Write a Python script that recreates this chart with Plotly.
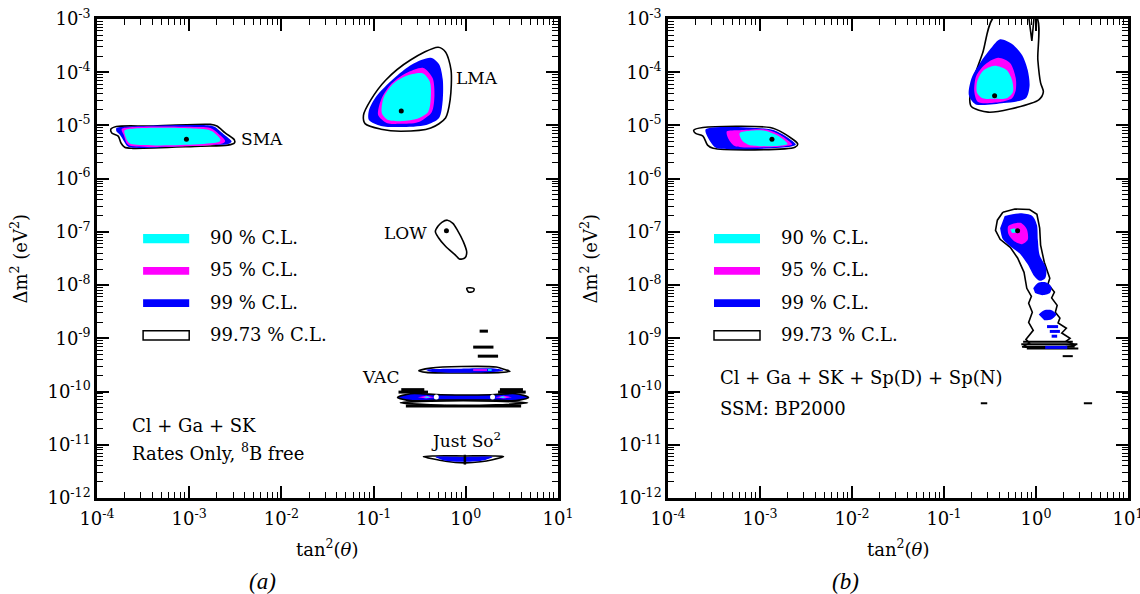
import numpy as np
import plotly.graph_objects as go

CYAN, MAGENTA, BLUE = "#00FFFF", "#FF00FF", "#0000FF"
W, H = 1140, 594

# ---- tick labels ----
X_TICK_EXP = [-4, -3, -2, -1, 0, 1]
Y_TICK_EXP = [-12, -11, -10, -9, -8, -7, -6, -5, -4, -3]

# ---- contour vertices: log10(tan^2 theta), log10(dm^2 / eV^2) ----
# Panel (a): Cl + Ga + SK, rates only
A_SMA_9973_LX = [-3.85, -3.79, -3.42, -2.77, -2.70, -2.61, -2.51, -2.51, -2.58, -2.88, -3.61, -3.70, -3.74, -3.77, -3.84]
A_SMA_9973_LY = [-5.07, -5.02, -5.01, -4.98, -5.01, -5.14, -5.27, -5.33, -5.37, -5.39, -5.43, -5.41, -5.33, -5.20, -5.14]
A_SMA_99_LX = [-3.79, -3.75, -2.77, -2.72, -2.63, -2.54, -2.58, -2.88, -3.59, -3.67, -3.71, -3.75, -3.79]
A_SMA_99_LY = [-5.05, -5.03, -5.00, -5.03, -5.16, -5.30, -5.35, -5.37, -5.42, -5.39, -5.29, -5.18, -5.11]
A_SMA_95_LX = [-3.73, -2.88, -2.77, -2.68, -2.61, -2.64, -3.64, -3.68, -3.71, -3.73]
A_SMA_95_LY = [-5.06, -5.03, -5.05, -5.16, -5.29, -5.34, -5.38, -5.33, -5.18, -5.11]
A_SMA_90_LX = [-3.70, -2.83, -2.75, -2.66, -2.68, -3.63, -3.67, -3.70]
A_SMA_90_LY = [-5.09, -5.07, -5.11, -5.27, -5.31, -5.35, -5.29, -5.16]

A_LMA_9973_LX = [-0.30, -0.22, -0.16, -0.17, -0.22, -0.38, -0.71, -0.92, -1.09, -1.11, -1.03, -0.87, -0.60]
A_LMA_9973_LY = [-3.53, -3.62, -3.96, -4.52, -4.86, -5.05, -5.11, -5.07, -4.97, -4.81, -4.52, -4.15, -3.77]
A_LMA_99_LX = [-0.38, -0.29, -0.25, -0.25, -0.29, -0.43, -0.71, -0.92, -1.05, -1.05, -0.97, -0.79, -0.58]
A_LMA_99_LY = [-3.73, -3.85, -4.13, -4.52, -4.86, -4.99, -5.03, -5.01, -4.90, -4.71, -4.45, -4.13, -3.85]
A_LMA_95_LX = [-0.46, -0.36, -0.34, -0.37, -0.52, -0.71, -0.85, -0.95, -0.92, -0.82, -0.65]
A_LMA_95_LY = [-3.92, -4.11, -4.43, -4.75, -4.94, -4.97, -4.96, -4.81, -4.52, -4.24, -4.02]
A_LMA_90_LX = [-0.47, -0.39, -0.38, -0.41, -0.54, -0.71, -0.84, -0.91, -0.89, -0.79, -0.65]
A_LMA_90_LY = [-4.02, -4.18, -4.49, -4.75, -4.88, -4.92, -4.90, -4.77, -4.47, -4.22, -4.07]

A_LOW_9973_LX = [-0.26, -0.20, -0.14, -0.09, -0.03, 0.01, -0.01, -0.07, -0.11, -0.22, -0.30, -0.33, -0.30]
A_LOW_9973_LY = [-6.82, -6.78, -6.84, -6.97, -7.17, -7.38, -7.49, -7.51, -7.44, -7.27, -7.10, -6.99, -6.89]
A_ISLAND_LX = [0.01, 0.05, 0.09, 0.08, 0.03]
A_ISLAND_LY = [-8.06, -8.05, -8.07, -8.12, -8.13]

A_VAC1_9973_LX = [-0.51, -0.38, -0.05, 0.33, 0.43, 0.48, 0.38, -0.05, -0.43]
A_VAC1_9973_LY = [-9.61, -9.56, -9.53, -9.54, -9.59, -9.62, -9.64, -9.65, -9.64]
A_VAC1_99_LX = [-0.43, -0.05, 0.33, 0.41, 0.33, -0.38]
A_VAC1_99_LY = [-9.59, -9.57, -9.57, -9.60, -9.63, -9.63]
A_VAC1_95_LX = [0.08, 0.23, 0.23, 0.08]
A_VAC1_95_LY = [-9.58, -9.58, -9.61, -9.61]
A_VAC1_90_LX = [0.24, 0.28, 0.28, 0.24]
A_VAC1_90_LY = [-9.58, -9.58, -9.61, -9.61]

A_VAC2_99_LX = [-0.74, -0.60, -0.27, 0.27, 0.54, 0.68, 0.54, 0.27, -0.27, -0.60]
A_VAC2_99_LY = [-10.11, -10.04, -10.06, -10.06, -10.04, -10.11, -10.17, -10.16, -10.16, -10.17]
A_VAC2_95_LX = [-0.52, -0.43, -0.34, -0.43, None, 0.32, 0.41, 0.50, 0.41]
A_VAC2_95_LY = [-10.105, -10.08, -10.105, -10.13, None, -10.105, -10.08, -10.105, -10.13]
A_VAC2_90_LX = [-0.46, -0.42, -0.38, -0.42, None, 0.36, 0.40, 0.44, 0.40]
A_VAC2_90_LY = [-10.105, -10.09, -10.105, -10.12, None, -10.105, -10.09, -10.105, -10.12]
A_VAC3_9973_LX = [-0.71, -0.38, 0.33, 0.67, 0.33, -0.38]
A_VAC3_9973_LY = [-10.21, -10.18, -10.18, -10.21, -10.25, -10.25]

# short black contour slivers: start lx, end lx, ly
A_DASH_LX0 = [0.15, 0.08, 0.13, -0.70, -0.73, 0.37, 0.35, -0.65]
A_DASH_LX1 = [0.24, 0.30, 0.35, -0.45, -0.41, 0.62, 0.65, 0.60]
A_DASH_LY = [-8.865, -9.165, -9.335, -9.964, -10.01, -9.964, -10.01, -10.27]

A_JSO_9973_LX = [-0.46, -0.33, -0.01, 0.29, 0.41, 0.29, 0.16, -0.01, -0.22]
A_JSO_9973_LY = [-11.22, -11.21, -11.21, -11.21, -11.22, -11.28, -11.32, -11.34, -11.31]
A_JSO_99_LX = [-0.33, -0.01, 0.29, 0.20, -0.01, -0.22]
A_JSO_99_LY = [-11.23, -11.23, -11.23, -11.29, -11.32, -11.30]

A_BEST_LX = [-3.03, -0.70, -0.21]
A_BEST_LY = [-5.26, -4.73, -6.98]
A_VAC_BEST_LX = [-0.32, 0.29]
A_VAC_BEST_LY = [-10.10, -10.10]
A_JSO_BEST_LX = [-0.01]
A_JSO_BEST_LY = [-11.28]

# Panel (b): Cl + Ga + SK + Sp(D) + Sp(N)
B_SMA_9973_LX = [-3.72, -3.62, -2.89, -2.75, -2.59, -2.62, -3.51, -3.57, -3.62, -3.70]
B_SMA_9973_LY = [-5.09, -5.04, -5.04, -5.14, -5.35, -5.41, -5.43, -5.37, -5.20, -5.15]
B_SMA_99_LX = [-3.59, -2.89, -2.76, -2.61, -2.67, -3.48, -3.53, -3.58]
B_SMA_99_LY = [-5.07, -5.07, -5.16, -5.36, -5.40, -5.42, -5.33, -5.18]
B_SMA_95_LX = [-3.36, -3.22, -2.92, -2.78, -2.65, -2.73, -3.27, -3.33, -3.36]
B_SMA_95_LY = [-5.11, -5.09, -5.08, -5.18, -5.36, -5.39, -5.39, -5.29, -5.18]
B_SMA_90_LX = [-3.22, -3.11, -2.95, -2.80, -2.70, -2.78, -3.11, -3.19, -3.22]
B_SMA_90_LY = [-5.14, -5.10, -5.10, -5.20, -5.35, -5.38, -5.37, -5.29, -5.20]

B_LMA_9973_LX = [-0.45, -0.58, -0.67, -0.72, -0.70, -0.52, -0.28, 0.03, 0.08, 0.05, 0.02, 0.00]
B_LMA_9973_LY = [-2.95, -3.64, -4.09, -4.52, -4.65, -4.75, -4.69, -4.52, -4.37, -4.20, -3.77, -2.95]
B_LMA_SLIT_LX = [-0.08, -0.045, -0.02]
B_LMA_SLIT_LY = [-2.95, -3.41, -2.95]
B_LMA_99_LX = [-0.39, -0.26, -0.15, -0.09, -0.07, -0.11, -0.35, -0.66, -0.73, -0.70, -0.61, -0.49]
B_LMA_99_LY = [-3.38, -3.47, -3.68, -3.96, -4.26, -4.49, -4.58, -4.60, -4.43, -4.11, -3.83, -3.55]
B_LMA_95_LX = [-0.41, -0.28, -0.22, -0.22, -0.26, -0.39, -0.63, -0.67, -0.65, -0.55]
B_LMA_95_LY = [-3.73, -3.83, -4.11, -4.34, -4.49, -4.56, -4.56, -4.37, -4.07, -3.85]
B_LMA_90_LX = [-0.45, -0.32, -0.26, -0.25, -0.32, -0.45, -0.58, -0.64, -0.64, -0.58]
B_LMA_90_LY = [-3.88, -3.96, -4.15, -4.37, -4.49, -4.50, -4.49, -4.39, -4.18, -3.98]

B_LOW_9973_LX = [-0.36, -0.23, -0.07, 0.01, 0.04, 0.05, 0.09, 0.15, 0.13, 0.20, 0.17, 0.23, 0.21, 0.26, 0.24, 0.33,
                 0.28, 0.37, 0.33, 0.43, 0.28, 0.04, -0.15, -0.07, -0.11, -0.03, -0.08, -0.04, -0.08, -0.05, -0.10,
                 -0.13, -0.20, -0.28, -0.39, -0.44, -0.42]
B_LOW_9973_LY = [-6.63, -6.57, -6.58, -6.67, -6.93, -7.25, -7.57, -7.87, -7.98, -8.13, -8.24, -8.38, -8.51, -8.62,
                 -8.71, -8.81, -8.90, -9.00, -9.05, -9.13, -9.17, -9.18, -9.16, -9.09, -9.02, -8.85, -8.70, -8.51,
                 -8.34, -8.21, -8.06, -7.76, -7.49, -7.29, -7.14, -6.97, -6.78]
B_LOW_99_LX = [-0.34, -0.17, -0.04, 0.01, 0.02, 0.04, 0.11, 0.10, 0.04, -0.02, -0.09, -0.17, -0.28, -0.36, -0.39,
               None, -0.03, 0.02, 0.11, 0.17, 0.15, 0.07, -0.01,
               None, 0.03, 0.09, 0.17, 0.22, 0.17, 0.09]
B_LOW_99_LY = [-6.70, -6.65, -6.70, -6.87, -7.15, -7.44, -7.68, -7.87, -7.92, -7.83, -7.61, -7.42, -7.27, -7.14, -6.93,
               None, -8.06, -7.96, -7.95, -8.04, -8.15, -8.19, -8.15,
               None, -8.55, -8.47, -8.47, -8.55, -8.64, -8.66]
B_LOW_95_LX = [-0.30, -0.17, -0.10, -0.09, -0.15, -0.24, -0.30]
B_LOW_95_LY = [-6.89, -6.83, -6.95, -7.15, -7.23, -7.17, -7.04]
B_LOW_90_LX = [-0.28, -0.23, -0.21, -0.26]
B_LOW_90_LY = [-6.95, -6.93, -7.01, -7.02]

B_DASH_LX0 = [-0.14, -0.16, -0.12, -0.10, 0.29, -0.60, 0.52]
B_DASH_LX1 = [0.40, 0.45, 0.42, 0.46, 0.40, -0.53, 0.61]
B_DASH_LY = [-9.066, -9.11, -9.16, -9.19, -9.335, -10.22, -10.22]
B_BLUE_DASH_LX0 = [0.12, 0.15, 0.17, 0.10]
B_BLUE_DASH_LX1 = [0.24, 0.26, 0.23, 0.34]
B_BLUE_DASH_LY = [-8.78, -8.87, -8.96, -9.17]

B_BEST_LX = [-2.87, -0.45, -0.20]
B_BEST_LY = [-5.26, -4.44, -6.98]

fig = go.Figure()


def p10(v):
    return [None if a is None else 10.0 ** a for a in v]


def closed(v):
    return list(v) + [v[0]]


def poly(lx, ly, fill, panel, outline=False, spline=True):
    xa, ya = ("x", "y") if panel == "a" else ("x2", "y2")
    if None not in lx:
        lx, ly = closed(lx), closed(ly)
    fig.add_trace(go.Scatter(
        x=p10(lx), y=p10(ly), mode="lines", fill="toself", fillcolor=fill,
        line=dict(color="black" if outline else fill, width=1.6 if outline else 0,
                  shape="spline" if spline else "linear", smoothing=0.8),
        xaxis=xa, yaxis=ya, hoverinfo="skip", showlegend=False))


def dashes(lx0, lx1, ly, color, width, panel):
    xa, ya = ("x", "y") if panel == "a" else ("x2", "y2")
    xs, ys = [], []
    for a, b, c in zip(lx0, lx1, ly):
        xs += [10.0 ** a, 10.0 ** b, None]
        ys += [10.0 ** c, 10.0 ** c, None]
    fig.add_trace(go.Scatter(x=xs, y=ys, mode="lines", line=dict(color=color, width=width),
                             xaxis=xa, yaxis=ya, hoverinfo="skip", showlegend=False))


# ---------- panel (a) ----------
poly(A_SMA_9973_LX, A_SMA_9973_LY, "white", "a", outline=True)
poly(A_SMA_99_LX, A_SMA_99_LY, BLUE, "a")
poly(A_SMA_95_LX, A_SMA_95_LY, MAGENTA, "a")
poly(A_SMA_90_LX, A_SMA_90_LY, CYAN, "a")
poly(A_LMA_9973_LX, A_LMA_9973_LY, "white", "a", outline=True)
poly(A_LMA_99_LX, A_LMA_99_LY, BLUE, "a")
poly(A_LMA_95_LX, A_LMA_95_LY, MAGENTA, "a")
poly(A_LMA_90_LX, A_LMA_90_LY, CYAN, "a")
poly(A_LOW_9973_LX, A_LOW_9973_LY, "white", "a", outline=True)
poly(A_ISLAND_LX, A_ISLAND_LY, "white", "a", outline=True)
dashes(A_DASH_LX0, A_DASH_LX1, A_DASH_LY, "black", 3, "a")
poly(A_VAC1_9973_LX, A_VAC1_9973_LY, "white", "a", outline=True)
poly(A_VAC1_99_LX, A_VAC1_99_LY, BLUE, "a")
poly(A_VAC1_95_LX, A_VAC1_95_LY, MAGENTA, "a", spline=False)
poly(A_VAC1_90_LX, A_VAC1_90_LY, CYAN, "a", spline=False)
poly(A_VAC3_9973_LX, A_VAC3_9973_LY, "white", "a", outline=True)
poly(A_VAC2_99_LX, A_VAC2_99_LY, BLUE, "a", outline=True)
poly(A_VAC2_95_LX, A_VAC2_95_LY, MAGENTA, "a", spline=False)
poly(A_VAC2_90_LX, A_VAC2_90_LY, CYAN, "a", spline=False)
poly(A_JSO_9973_LX, A_JSO_9973_LY, "white", "a", outline=True)
poly(A_JSO_99_LX, A_JSO_99_LY, BLUE, "a")

fig.add_trace(go.Scatter(x=p10(A_BEST_LX), y=p10(A_BEST_LY), mode="markers",
                         marker=dict(color="black", size=5), xaxis="x", yaxis="y",
                         hoverinfo="skip", showlegend=False))
fig.add_trace(go.Scatter(x=p10(A_VAC_BEST_LX), y=p10(A_VAC_BEST_LY), mode="markers",
                         marker=dict(color="white", size=5), xaxis="x", yaxis="y",
                         hoverinfo="skip", showlegend=False))
fig.add_trace(go.Scatter(x=p10(A_JSO_BEST_LX), y=p10(A_JSO_BEST_LY), mode="markers",
                         marker=dict(symbol="line-ns", size=7, line=dict(color="black", width=2.5)),
                         xaxis="x", yaxis="y", hoverinfo="skip", showlegend=False))

# ---------- panel (b) ----------
poly(B_SMA_9973_LX, B_SMA_9973_LY, "white", "b", outline=True)
poly(B_SMA_99_LX, B_SMA_99_LY, BLUE, "b")
poly(B_SMA_95_LX, B_SMA_95_LY, MAGENTA, "b")
poly(B_SMA_90_LX, B_SMA_90_LY, CYAN, "b")
poly(B_LMA_9973_LX, B_LMA_9973_LY, "white", "b", outline=True)
fig.add_trace(go.Scatter(x=p10(B_LMA_SLIT_LX), y=p10(B_LMA_SLIT_LY), mode="lines",
                         line=dict(color="black", width=1.6), xaxis="x2", yaxis="y2",
                         hoverinfo="skip", showlegend=False))
poly(B_LMA_99_LX, B_LMA_99_LY, BLUE, "b")
poly(B_LMA_95_LX, B_LMA_95_LY, MAGENTA, "b")
poly(B_LMA_90_LX, B_LMA_90_LY, CYAN, "b")
poly(B_LOW_9973_LX, B_LOW_9973_LY, "white", "b", outline=True, spline=False)
dashes(B_DASH_LX0, B_DASH_LX1, B_DASH_LY, "black", 2, "b")
poly(B_LOW_99_LX, B_LOW_99_LY, BLUE, "b")
dashes(B_BLUE_DASH_LX0, B_BLUE_DASH_LX1, B_BLUE_DASH_LY, BLUE, 3, "b")
poly(B_LOW_95_LX, B_LOW_95_LY, MAGENTA, "b")
poly(B_LOW_90_LX, B_LOW_90_LY, CYAN, "b", spline=False)
fig.add_trace(go.Scatter(x=p10(B_BEST_LX), y=p10(B_BEST_LY), mode="markers",
                         marker=dict(color="black", size=5), xaxis="x2", yaxis="y2",
                         hoverinfo="skip", showlegend=False))

# ---------- axes ----------
FONT = "DejaVu Serif"
tick_font = dict(family=FONT, size=18, color="black")
x_minor = [m * 10.0 ** e for e in range(X_TICK_EXP[0], X_TICK_EXP[-1]) for m in range(2, 10)]
y_minor = [m * 10.0 ** e for e in range(Y_TICK_EXP[0], Y_TICK_EXP[-1]) for m in range(2, 10)]


def common_axis():
    return dict(type="log", showline=True, linecolor="black", linewidth=2.5, mirror="allticks",
                ticks="inside", ticklen=12, tickwidth=1.5, tickcolor="black", tickmode="array",
                tickfont=tick_font, showgrid=False, zeroline=False, automargin=False,
                fixedrange=True, ticklabeloverflow="allow")


def xaxis(domain, anchor):
    d = common_axis()
    d.update(range=[X_TICK_EXP[0], X_TICK_EXP[-1]], domain=domain, anchor=anchor,
             tickvals=[10.0 ** e for e in X_TICK_EXP],
             ticktext=[f"10<sup>{e}</sup>" for e in X_TICK_EXP], ticklabelstandoff=3,
             minor=dict(tickmode="array", tickvals=x_minor, ticks="inside", ticklen=6,
                        tickwidth=1.2, tickcolor="black", showgrid=False))
    return d


def yaxis(domain, anchor):
    d = common_axis()
    d.update(range=[Y_TICK_EXP[0], Y_TICK_EXP[-1]], domain=domain, anchor=anchor,
             tickvals=[10.0 ** e for e in Y_TICK_EXP],
             ticktext=[f"10<sup>{e}</sup>" for e in Y_TICK_EXP],
             minor=dict(tickmode="array", tickvals=y_minor, ticks="inside", ticklen=6,
                        tickwidth=1.2, tickcolor="black", showgrid=False))
    return d


ydom = [1 - 498 / H, 1 - 19 / H]
fig.update_layout(
    width=W, height=H, margin=dict(l=0, r=0, t=0, b=0),
    paper_bgcolor="white", plot_bgcolor="white", showlegend=False,
    xaxis=xaxis([97 / W, 558 / W], "y"), yaxis=yaxis(ydom, "x"),
    xaxis2=xaxis([668 / W, 1128 / W], "y2"), yaxis2=yaxis(ydom, "x2"),
)

# ---------- legend swatches & texts ----------
LEGEND_LABELS = ["90 % C.L.", "95 % C.L.", "99 % C.L.", "99.73 % C.L."]
LEGEND_COLORS = [CYAN, MAGENTA, BLUE, "white"]
sw_y = [(0.532, 0.551), (0.466, 0.482), (0.399, 0.415), (0.330, 0.349)]
txt_y = [0.543, 0.476, 0.409, 0.342]
ann = []
shapes = []
for xs, ys in (("x", "y"), ("x2", "y2")):
    for lab, col, (y0, y1), ty in zip(LEGEND_LABELS, LEGEND_COLORS, sw_y, txt_y):
        shapes.append(dict(type="rect", xref=f"{xs} domain", yref=f"{ys} domain",
                           x0=0.10, x1=0.20, y0=y0, y1=y1, fillcolor=col,
                           line=dict(color="black" if col == "white" else col, width=1.5 if col == "white" else 0)))
        ann.append(dict(text=lab, xref=f"{xs} domain", yref=f"{ys} domain", x=0.241, y=ty,
                        xanchor="left", yanchor="middle", showarrow=False,
                        font=dict(family=FONT, size=18, color="black")))

txt_font = dict(family=FONT, size=18, color="black")
ann += [
    dict(text="Cl + Ga + SK", xref="x domain", yref="y domain", x=0.072, y=0.152,
         xanchor="left", yanchor="middle", showarrow=False, font=txt_font),
    dict(text="Rates Only, <sup>8</sup>B free", xref="x domain", yref="y domain", x=0.072, y=0.096,
         xanchor="left", yanchor="middle", showarrow=False, font=txt_font),
    dict(text="Cl + Ga + SK + Sp(D) + Sp(N)", xref="x2 domain", yref="y2 domain", x=0.109, y=0.251,
         xanchor="left", yanchor="middle", showarrow=False, font=txt_font),
    dict(text="SSM: BP2000", xref="x2 domain", yref="y2 domain", x=0.109, y=0.187,
         xanchor="left", yanchor="middle", showarrow=False, font=txt_font),
]
# region labels (log10 coordinates on the log axes)
REGION_LABELS = ["SMA", "LMA", "LOW", "VAC", "Just So<sup>2</sup>"]
REGION_LX = [-2.21, 0.12, -0.65, -0.92, 0.0]
REGION_LY = [-5.26, -4.11, -7.02, -9.73, -10.91]
for t, lx, ly in zip(REGION_LABELS, REGION_LX, REGION_LY):
    ann.append(dict(text=t, xref="x", yref="y", x=lx, y=ly, showarrow=False,
                    font=dict(family=FONT, size=17, color="black")))

title_font = dict(family=FONT, size=18, color="black")
for px_center in (327, 898):
    ann.append(dict(text="tan<sup>2</sup>(<i>θ</i>)", xref="paper", yref="paper", x=px_center / W,
                    y=1 - 548 / H, xanchor="center", yanchor="middle", showarrow=False, font=title_font))
for px_x in (20, 590):
    ann.append(dict(text="Δm<sup>2</sup> (eV<sup>2</sup>)", xref="paper", yref="paper", x=px_x / W,
                    y=1 - 258.5 / H, textangle=-90, xanchor="center", yanchor="middle",
                    showarrow=False, font=title_font))
for px_center, letter in ((262, "(a)"), (845, "(b)")):
    ann.append(dict(text=f"<i>{letter}</i>", xref="paper", yref="paper", x=px_center / W,
                    y=1 - 581 / H, xanchor="center", yanchor="middle", showarrow=False,
                    font=dict(family="Liberation Serif", size=23, color="black")))

fig.update_layout(annotations=ann, shapes=shapes)
fig.write_html("out.html")
